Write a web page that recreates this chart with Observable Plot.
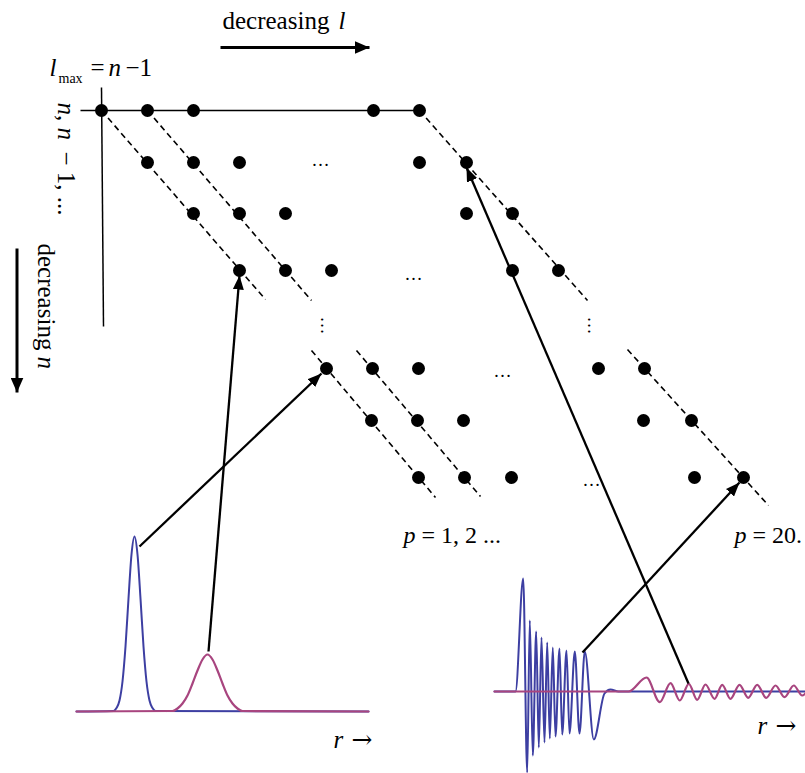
<!DOCTYPE html>
<html>
<head>
<meta charset="utf-8">
<script src="https://cdn.jsdelivr.net/npm/d3@7"></script>
<script src="https://cdn.jsdelivr.net/npm/@observablehq/plot@0.6"></script>
<style>
  html, body { margin: 0; padding: 0; background: #fff; overflow: hidden; }
</style>
</head>
<body>
<div id="chart"></div>
<script>
// ---------- data (diagram coordinates) ----------
const rowY = [110, 162, 213, 270, 368, 420, 477];
const rowDotX = [
  [101, 147, 193, 373, 419],
  [147, 193, 239, 419, 466],
  [193, 239, 285, 466, 512],
  [239, 285, 331, 512, 558],
  [326, 372, 418, 598, 644],
  [371, 417, 463, 643, 691],
  [418, 464, 511, 694, 743]
];
const hEllipsis = [[320, 165.5], [413, 279], [502, 376], [591, 485]];
const vEllipsis = [[320, 325], [587, 325]];

const axisLines = [[80, 110, 419, 110], [101, 87, 103, 326]];
const diagonals = [
  [101, 110, 265, 299], [147, 110, 311, 300], [419, 110, 587, 300],
  [311, 350, 435, 497], [356, 350, 480, 496], [627, 349, 768, 505]
];
const bigArrows = [[220, 47, 369, 47], [16.5, 248, 16.5, 392]];
const stateArrows = [
  [139, 546, 321, 373], [208, 651, 239, 275],
  [582, 652, 739, 482], [688, 683, 466, 167]
];

// radial curves
const leftBlue = [
  [76, 711], [113, 710.5], [116, 707.5], [119, 700], [122, 681], [125, 646], [128, 598],
  [131, 554], [134, 536], [137, 554], [140, 598], [143, 646], [146, 681], [149, 700],
  [152, 707.5], [155, 710.5], [368, 711]
];
const leftMagenta = [
  [76, 711], [172, 710.5], [177, 708], [182, 703], [187, 695], [192, 683], [197, 670],
  [202, 659], [207, 654], [212, 659], [217, 670], [222, 683], [227, 695], [232, 703],
  [237, 708], [242, 710.5], [368, 711]
];
const rightBlue = [
  [494, 691], [515, 691], [522.7, 578], [526.7, 772], [529.3, 620], [532.3, 755],
  [535.7, 631], [538.3, 747], [541, 637], [544, 742], [546.7, 642], [549.3, 738],
  [552.3, 647], [555, 736], [559, 648], [561.7, 734], [566, 650], [569, 733],
  [574.3, 651], [579, 733], [584.3, 651], [593.3, 739], [604, 693], [610, 689],
  [618, 691], [805, 691]
];
const rightMagenta = [
  [494, 691], [628, 691], [646, 677], [659.3, 701.7], [670, 682.7], [679.3, 700],
  [688.3, 683.3], [696.7, 699.3], [705, 684], [714, 698.3], [721.7, 684.3], [730, 698.3],
  [739, 684.3], [747.7, 697.3], [756.7, 684.3], [765.7, 697.3], [775, 685], [784, 696.7],
  [793.3, 685], [801.7, 695], [810, 685]
];

// labels
const romanLabels = [
  [222, 28.5, "decreasing"], [90, 75, "="], [125, 75, "−1"]
];
const arrowGlyphs = [[351, 747, "→"], [775, 733, "→"]];
const italicLabels = [
  [338, 28.5, "l"], [49, 75, "l"], [108, 75, "n"], [333, 747, "r"], [757, 733, "r"]
];
const subLabels = [[58, 82, "max"]];
const pItalic = [[403, 542, "p"], [734, 542, "p"]];
const pRoman = [[421, 542, "= 1, 2 ..."], [752, 542, "= 20."]];
const rotRoman = [[37, 243, "decreasing"], [57, 114.5, ","], [57, 151, "− 1, ..."]];
const rotItalic = [[37, 356, "n"], [57, 102, "n"], [57, 127, "n"]];

// ---------- build ----------
const states = rowY.flatMap((y, i) => rowDotX[i].map(x => ({x, y})));
const seg = a => a.map(([x1, y1, x2, y2]) => ({x1, y1, x2, y2}));
const pts = a => a.map(([x, y]) => ({x, y}));
const lbl = a => a.map(([x, y, text]) => ({x, y, text}));

function head(len, wid) {
  return (color) => {
    const m = d3.create("svg:marker")
      .attr("viewBox", `0 ${-wid / 2} ${len} ${wid}`)
      .attr("markerWidth", len)
      .attr("markerHeight", wid)
      .attr("markerUnits", "userSpaceOnUse")
      .attr("refX", len)
      .attr("refY", 0)
      .attr("orient", "auto");
    m.append("path")
      .attr("d", `M0,${-wid / 2}L${len},0L0,${wid / 2}Z`)
      .attr("fill", color)
      .attr("stroke", "none");
    return m.node();
  };
}

const serif = "'Liberation Serif', 'Times New Roman', serif";
const blue = "#3d3fa2";
const magenta = "#a8457f";

const chart = Plot.plot({
  width: 805,
  height: 773,
  margin: 0,
  x: {domain: [0, 805], range: [0, 805], axis: null},
  y: {domain: [0, 773], range: [0, 773], axis: null},
  style: {background: "white", fontFamily: serif},
  marks: [
    // curves
    Plot.line(pts(leftBlue), {x: "x", y: "y", stroke: blue, strokeWidth: 2, curve: "monotone-x"}),
    Plot.line(pts(leftMagenta), {x: "x", y: "y", stroke: magenta, strokeWidth: 2.2, curve: "monotone-x"}),
    Plot.line(pts(rightBlue), {x: "x", y: "y", stroke: blue, strokeWidth: 2, curve: "monotone-x"}),
    Plot.line(pts(rightMagenta), {x: "x", y: "y", stroke: magenta, strokeWidth: 2.2, curve: "monotone-x"}),
    // axes of the diagram
    Plot.link(seg(axisLines), {x1: "x1", y1: "y1", x2: "x2", y2: "y2", stroke: "black", strokeWidth: 1.5}),
    // dashed constant-p lines
    Plot.link(seg(diagonals), {x1: "x1", y1: "y1", x2: "x2", y2: "y2", stroke: "black", strokeWidth: 1.6, strokeDasharray: "6,4"}),
    // states
    Plot.dot(states, {x: "x", y: "y", r: 6.5, fill: "black", stroke: null}),
    // ellipses
    Plot.text(pts(hEllipsis), {x: "x", y: "y", text: () => "…", fontSize: 18, textAnchor: "middle", lineAnchor: "bottom", fontFamily: serif}),
    Plot.text(pts(vEllipsis), {x: "x", y: "y", text: () => "…", fontSize: 18, textAnchor: "middle", lineAnchor: "bottom", rotate: 90, fontFamily: serif}),
    // arrows
    Plot.link(seg(bigArrows), {x1: "x1", y1: "y1", x2: "x2", y2: "y2", stroke: "black", strokeWidth: 3, markerEnd: head(15, 13)}),
    Plot.link(seg(stateArrows), {x1: "x1", y1: "y1", x2: "x2", y2: "y2", stroke: "black", strokeWidth: 2.3, markerEnd: head(14, 11)}),
    // labels
    Plot.text(lbl(romanLabels), {x: "x", y: "y", text: "text", fontSize: 25, textAnchor: "start", lineAnchor: "bottom", fontFamily: serif}),
    Plot.text(lbl(arrowGlyphs), {x: "x", y: "y", text: "text", fontSize: 25, textAnchor: "start", lineAnchor: "bottom", fontFamily: "'DejaVu Serif', serif"}),
    Plot.text(lbl(italicLabels), {x: "x", y: "y", text: "text", fontSize: 25, fontStyle: "italic", textAnchor: "start", lineAnchor: "bottom", fontFamily: serif}),
    Plot.text(lbl(subLabels), {x: "x", y: "y", text: "text", fontSize: 14, textAnchor: "start", lineAnchor: "bottom", fontFamily: serif}),
    Plot.text(lbl(pItalic), {x: "x", y: "y", text: "text", fontSize: 24, fontStyle: "italic", textAnchor: "start", lineAnchor: "bottom", fontFamily: serif}),
    Plot.text(lbl(pRoman), {x: "x", y: "y", text: "text", fontSize: 24, textAnchor: "start", lineAnchor: "bottom", fontFamily: serif}),
    Plot.text(lbl(rotRoman), {x: "x", y: "y", text: "text", fontSize: 25, rotate: 90, textAnchor: "start", lineAnchor: "bottom", fontFamily: serif}),
    Plot.text(lbl(rotItalic), {x: "x", y: "y", text: "text", fontSize: 25, fontStyle: "italic", rotate: 90, textAnchor: "start", lineAnchor: "bottom", fontFamily: serif})
  ]
});
document.getElementById("chart").appendChild(chart);
</script>
</body>
</html>
